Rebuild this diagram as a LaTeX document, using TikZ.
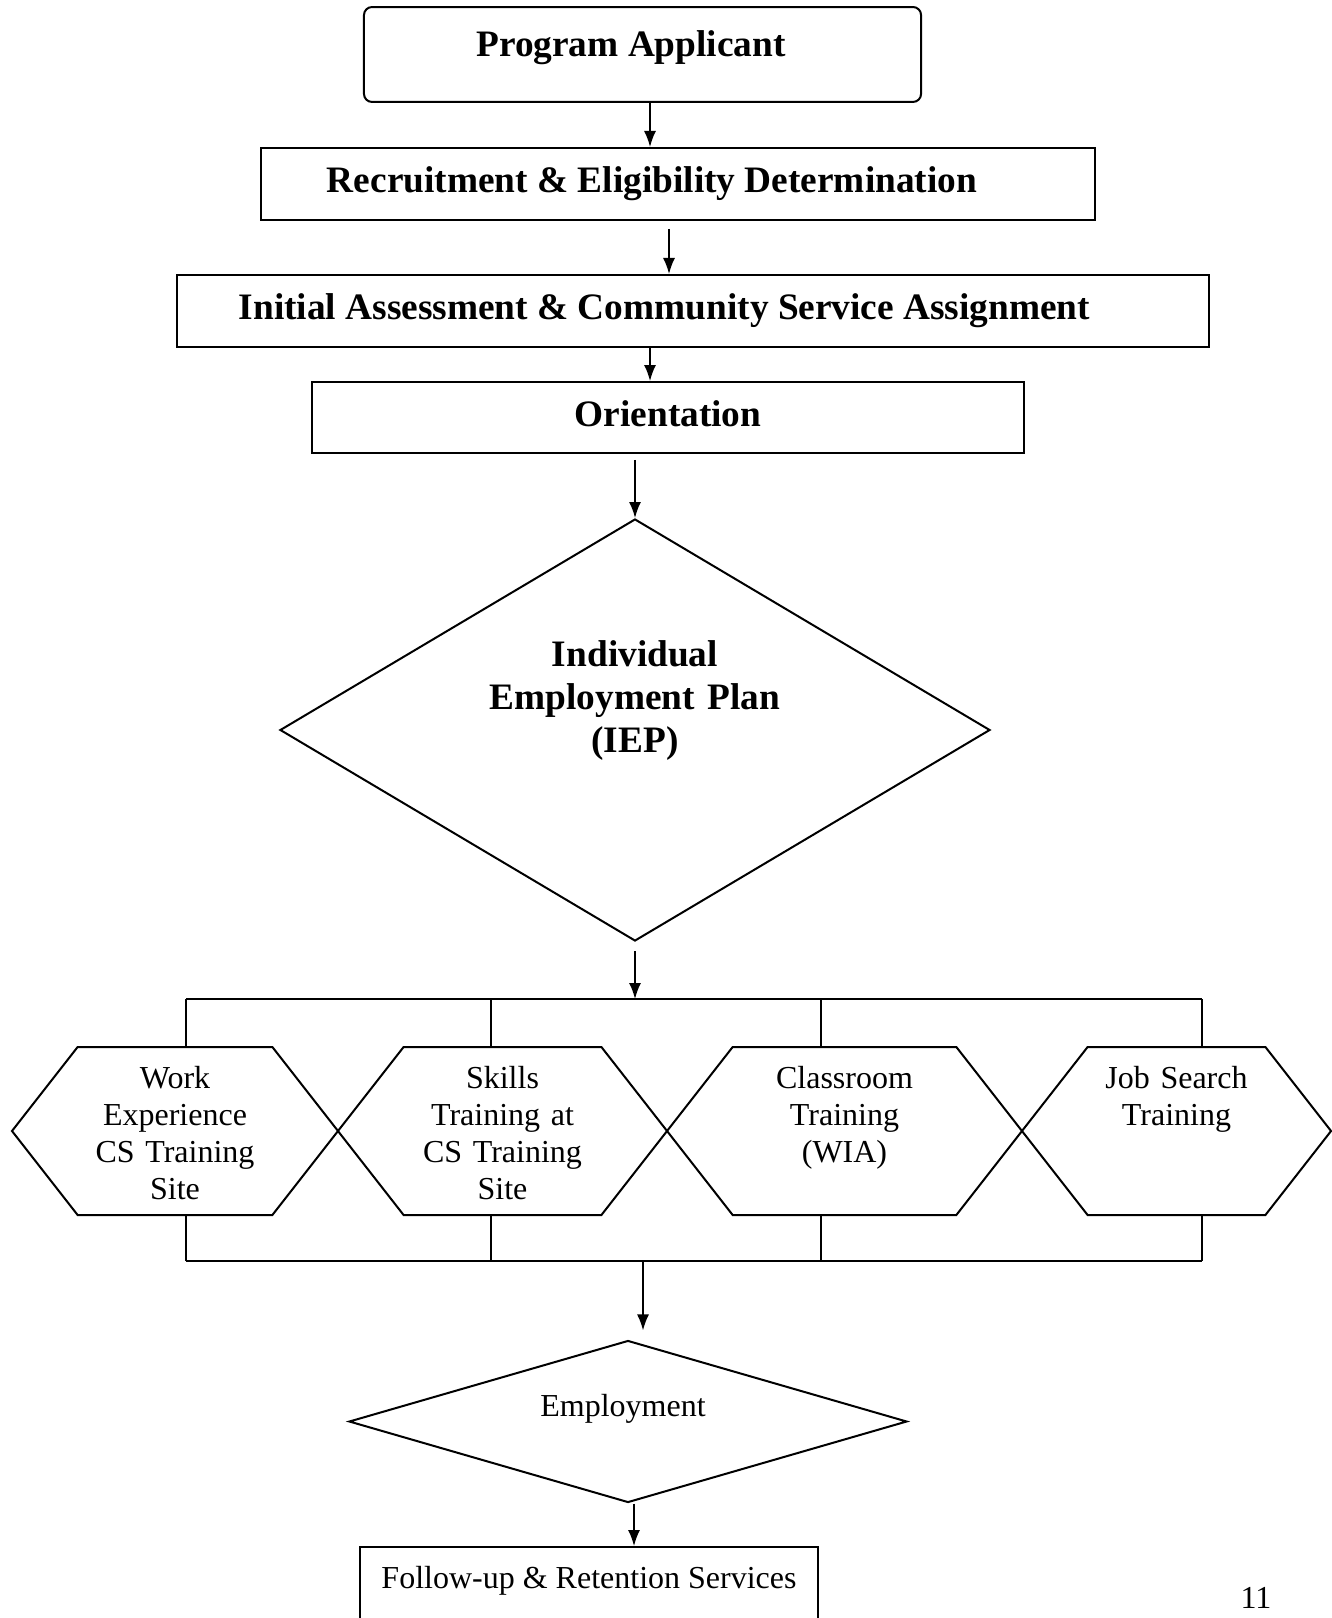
\documentclass[tikz,border=0pt]{standalone}
\usepackage{fontspec}
\setmainfont{Liberation Serif}
\usetikzlibrary{arrows.meta,calc,shapes.geometric,shapes.symbols}

\begin{document}
\begin{tikzpicture}[x=0.375pt,y=-0.375pt,
		line width=0.75pt,
		head/.style={font=\fontsize{14}{16.1}\selectfont\bfseries},
		body/.style={font=\fontsize{12}{13.9}\selectfont},
		stepbox/.style={draw, rectangle, head, inner sep=0pt, text height=9.5pt, text depth=3pt},
		hexbox/.style={draw, signal, signal to=east and west, signal pointer angle=104, minimum height=63pt, inner sep=0pt, body, text width=62pt, align=center, text height=8.5pt, text depth=40.3pt},
		arr/.style={-{Latex[length=6pt,width=4.5pt]}, line width=0.6pt}]
		
		\useasboundingbox (0,0) rectangle (1332,1618);
		\clip (0,0) rectangle (1332,1618);
		
		%%%%% START %%%%%
		
		\node[stepbox, rounded corners=3pt, minimum width=208.9pt, minimum height=35.6pt, text depth=8.1pt] (applicant) at (642.5,54.5) {Program Applicant\hspace*{8.6pt}};
		\node[stepbox, minimum width=312.75pt, minimum height=27pt] (recruit) at (678,184) {Recruitment \& Eligibility Determination\hspace*{19.5pt}};
		\node[stepbox, minimum width=387pt, minimum height=27pt] (initial) at (693,311) {Initial Assessment \& Community Service Assignment\hspace*{21.4pt}};
		\node[stepbox, minimum width=267pt, minimum height=26.6pt] (orient) at (668,417.5) {Orientation};
		
		\node[draw, diamond, aspect=1.68, minimum width=266.25pt, minimum height=158.25pt, inner sep=0pt, head, text width=112pt, align=center, text height=9.5pt, text depth=57.3pt] (iep) at (635,730) {Individual\\Employment Plan\\(IEP)};
		
		\draw[arr] ($(applicant.south)+(7.5,0)$) coordinate (a1) -- (a1 |- recruit.north);
		\draw[arr, shorten <=3pt] ($(recruit.south)+(-9,0)$) coordinate (a2) -- (a2 |- initial.north);
		\draw[arr] ($(initial.south)+(-43,0)$) coordinate (a3) -- (a3 |- orient.north);
		\draw[arr, shorten <=2.25pt] ($(orient.south)+(-33,0)$) coordinate (a4) -- (a4 |- iep.north);
		
		% the four options
		\node[hexbox, minimum width=122.25pt] (work) at (175,1131) {Work\\Experience\\CS Training\\Site};
		\node[hexbox, minimum width=123.4pt] (skills) at (502.5,1131) {Skills\\Training at\\CS Training\\Site};
		\node[hexbox, minimum width=133.1pt] (classroom) at (844.5,1131) {Classroom\\Training\\(WIA)};
		\node[hexbox, minimum width=115.9pt] (jobsearch) at (1176.5,1131) {Job Search\\Training};
		
		\coordinate (ta) at (186,999);
		\coordinate (tb) at (491,999);
		\coordinate (tc) at (821,999);
		\coordinate (td) at (1202,999);
		\coordinate (ba) at (186,1261);
		\coordinate (bb) at (491,1261);
		\coordinate (bc) at (821,1261);
		\coordinate (bd) at (1202,1261);
		\coordinate (busout) at (643,1261);
		
		\draw[arr, shorten <=3.4pt] (iep.south) -- (iep.south |- ta);
		\draw (ta) -- (td);
		\draw (ta) -- (work.north -| ta);
		\draw (tb) -- (skills.north -| tb);
		\draw (tc) -- (classroom.north -| tc);
		\draw (td) -- (jobsearch.north -| td);
		
		\draw (ba) -- (bd);
		\draw (ba) -- (work.south -| ba);
		\draw (bb) -- (skills.south -| bb);
		\draw (bc) -- (classroom.south -| bc);
		\draw (bd) -- (jobsearch.south -| bd);
		
		\node[draw, diamond, aspect=3.44, minimum width=209.25pt, minimum height=60.75pt, inner sep=0pt, body, text height=8.5pt, text depth=12.1pt] (employ) at (628,1421.5) {Employment\hspace*{3.75pt}};
		\draw[arr, shorten >=3.4pt] (busout) -- (busout |- employ.north);
		
		\node[draw, rectangle, body, minimum width=171.75pt, minimum height=38.6pt, inner sep=0pt, text height=8.5pt, text depth=15.9pt] (follow) at (589,1598.5) {Follow-up \& Retention Services};
		\draw[arr] ($(employ.south)+(6,0)$) coordinate (a7) -- (a7 |- follow.north);
		
		\node[body] (pagenum) at (1256,1598) {11};
		
		%%%%% END %%%%%
\end{tikzpicture}
\end{document}
